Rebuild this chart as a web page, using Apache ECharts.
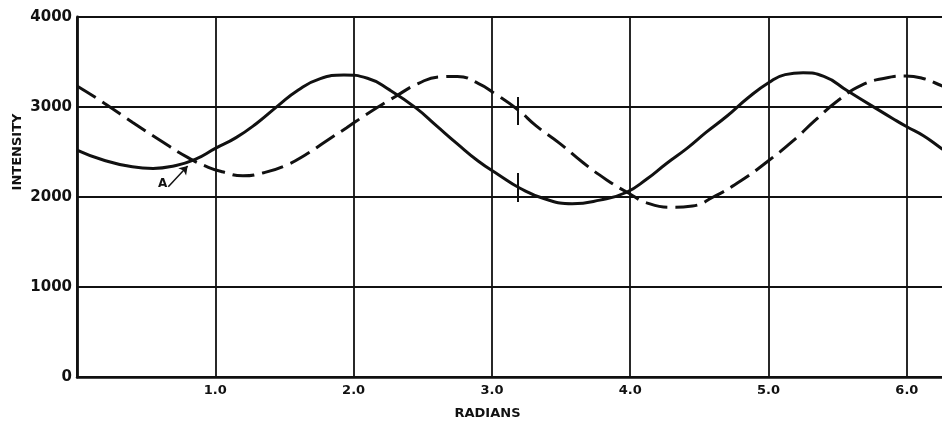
<!DOCTYPE html>
<html>
<head>
<meta charset="utf-8">
<script src="https://cdn.jsdelivr.net/npm/echarts@6/dist/echarts.min.js"></script>
<style>
  html, body { margin: 0; padding: 0; background: #fff; }
  #chart { width: 942px; height: 422px; }
</style>
</head>
<body>
<div id="chart"></div>
<script>
// Intensity against phase (radians): solid and dashed traces
const solidX = [0, 0.2, 0.4, 0.55, 0.7, 0.85, 1.0, 1.15, 1.3, 1.45, 1.6, 1.75, 1.93, 2.1, 2.26, 2.45, 2.6, 2.75, 2.9, 3.05, 3.2, 3.38, 3.58, 3.78, 3.97, 4.12, 4.26, 4.41, 4.55, 4.7, 4.85, 5.0, 5.12, 5.25, 5.4, 5.57, 5.75, 5.9, 6.0, 6.12, 6.25, 6.3];
const solidY = [2522, 2405, 2335, 2318, 2345, 2415, 2540, 2660, 2820, 3010, 3190, 3310, 3356, 3320, 3190, 2990, 2790, 2590, 2400, 2245, 2100, 1980, 1925, 1965, 2050, 2200, 2370, 2540, 2720, 2900, 3100, 3270, 3360, 3380, 3340, 3180, 3010, 2870, 2780, 2680, 2540, 2490];

const dashX = [0, 0.2, 0.4, 0.6, 0.8, 0.95, 1.05, 1.2, 1.35, 1.5, 1.65, 1.8, 1.95, 2.1, 2.3, 2.47, 2.62, 2.75, 2.9, 3.02, 3.19, 3.32, 3.49, 3.66, 3.83, 3.99, 4.12, 4.3, 4.45, 4.6, 4.8, 4.99, 5.17, 5.34, 5.5, 5.67, 5.84, 5.99, 6.11, 6.23, 6.3];
const dashY = [3233, 3040, 2830, 2630, 2440, 2330, 2280, 2235, 2270, 2345, 2467, 2620, 2770, 2925, 3114, 3263, 3335, 3340, 3263, 3150, 2967, 2790, 2596, 2380, 2190, 2041, 1935, 1885, 1900, 2000, 2180, 2392, 2615, 2856, 3070, 3240, 3320, 3344, 3320, 3250, 3200];

// Axis ticks and labels
const xTicks = [1, 2, 3, 4, 5, 6];
const xLabels = ['1.0', '2.0', '3.0', '4.0', '5.0', '6.0'];
const yTicks = [0, 1000, 2000, 3000, 4000];
const yLabels = ['0', '1000', '2000', '3000', '4000'];

// Annotations: point "A" with its arrow, and short marker strokes at x = 3.19
const pointA = { label: 'A', x: 0.62, y: 2144 };
const arrowA = [[0.66, 2114], [0.80, 2344]];
const markerUpper = [[3.19, 3111], [3.19, 2800]];
const markerLower = [[3.19, 2267], [3.19, 1944]];

const ink = '#111';
const font = 'DejaVu Sans';

const zip = (xs, ys) => xs.map((x, i) => [x, ys[i]]);

const chart = echarts.init(document.getElementById('chart'), null, { renderer: 'canvas' });

chart.setOption({
  animation: false,
  backgroundColor: '#fff',
  // the plot runs past the right edge of the canvas, so its closing line is not seen
  grid: { left: 77, top: 17, right: -4, bottom: 45, containLabel: false, outerBoundsMode: 'none' },
  xAxis: {
    type: 'value',
    min: 0,
    max: 6.283,
    interval: 1,
    axisLine: { show: true, lineStyle: { color: ink, width: 2.5 } },
    axisTick: { show: false },
    splitLine: { show: true, lineStyle: { color: ink, width: 1.8 } },
    axisLabel: {
      margin: 7,
      color: ink,
      fontFamily: font,
      fontWeight: 'bold',
      fontSize: 13,
      formatter: v => {
        const i = xTicks.indexOf(Math.round(v * 1000) / 1000);
        return i >= 0 ? xLabels[i] : '';
      }
    },
    name: 'RADIANS',
    nameLocation: 'middle',
    nameGap: 30,
    // centred under the visible part of the plot
    nameTextStyle: { color: ink, fontFamily: font, fontWeight: 'bold', fontSize: 13, padding: [0, 48, 0, 0] }
  },
  yAxis: {
    type: 'value',
    min: 0,
    max: 4000,
    interval: 1000,
    axisLine: { show: true, lineStyle: { color: ink, width: 2.8 } },
    axisTick: { show: false },
    splitLine: { show: true, lineStyle: { color: ink, width: 1.8 } },
    axisLabel: {
      margin: 5,
      color: ink,
      fontFamily: font,
      fontWeight: 'bold',
      fontSize: 15,
      formatter: v => {
        const i = yTicks.indexOf(v);
        return i >= 0 ? yLabels[i] : '';
      }
    }
  },
  graphic: [{
    type: 'text',
    x: 18,
    y: 152,
    rotation: Math.PI / 2,
    style: {
      text: 'INTENSITY',
      fill: ink,
      font: 'bold 13px "DejaVu Sans"',
      align: 'center',
      verticalAlign: 'middle'
    }
  }],
  series: [
    {
      name: 'solid',
      type: 'line',
      data: zip(solidX, solidY),
      smooth: 0.5,
      showSymbol: false,
      clip: true,
      lineStyle: { color: ink, width: 3 },
      markLine: {
        silent: true,
        symbol: ['none', 'none'],
        label: { show: false },
        lineStyle: { color: ink, width: 2, type: 'solid' },
        data: [
          [{ coord: markerUpper[0] }, { coord: markerUpper[1] }],
          [{ coord: markerLower[0] }, { coord: markerLower[1] }]
        ]
      }
    },
    {
      name: 'dashed',
      type: 'line',
      data: zip(dashX, dashY),
      smooth: 0.5,
      showSymbol: false,
      clip: true,
      lineStyle: { color: ink, width: 3, type: [22, 8] },
      markLine: {
        silent: true,
        symbol: ['none', 'arrow'],
        symbolSize: 8,
        label: { show: false },
        lineStyle: { color: ink, width: 1.5, type: 'solid' },
        data: [
          [{ coord: arrowA[0] }, { coord: arrowA[1] }]
        ]
      },
      markPoint: {
        silent: true,
        symbol: 'circle',
        symbolSize: 0,
        label: {
          show: true,
          position: 'inside',
          formatter: pointA.label,
          color: ink,
          fontFamily: font,
          fontWeight: 'bold',
          fontSize: 12
        },
        data: [{ coord: [pointA.x, pointA.y] }]
      }
    }
  ]
});
</script>
</body>
</html>
